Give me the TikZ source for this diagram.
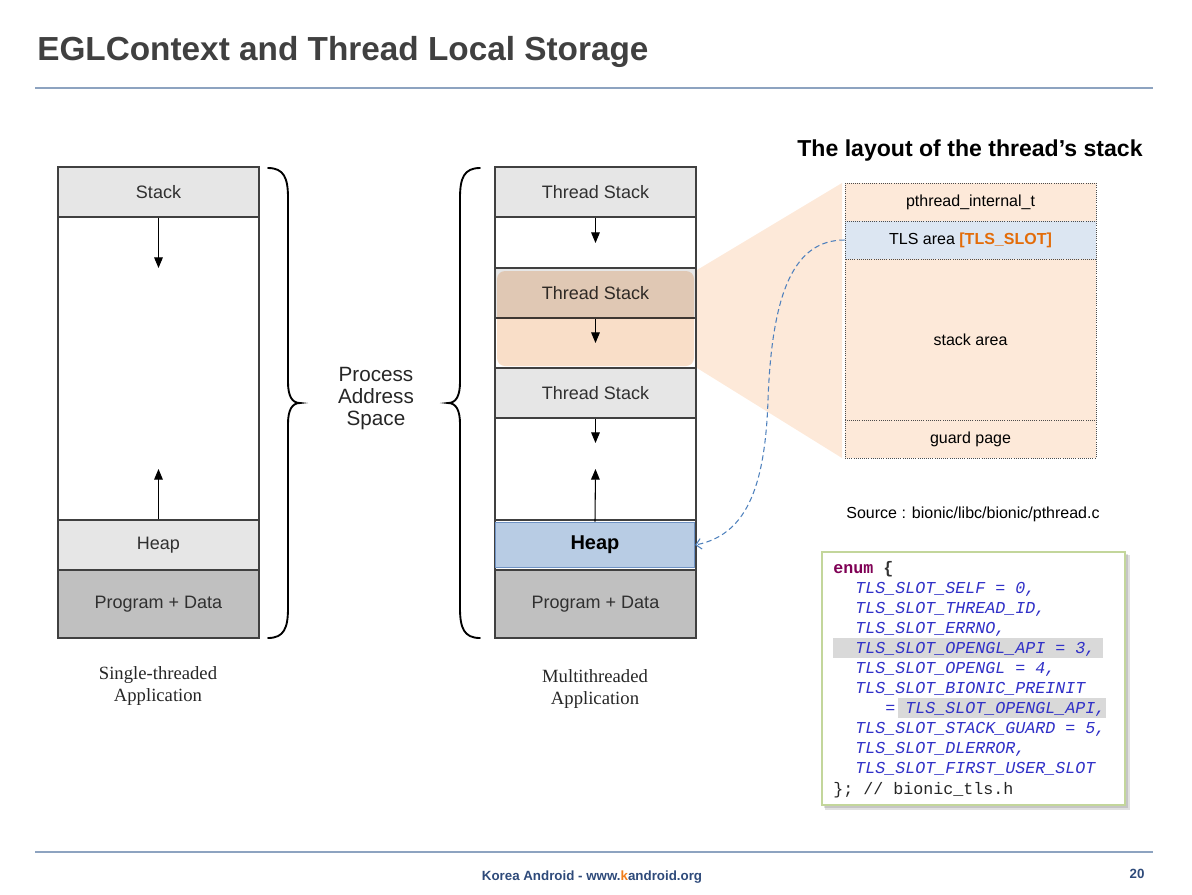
\documentclass[tikz,border=0pt]{standalone}
\usepackage{fontspec}
\setmainfont{Liberation Sans}
\newfontfamily\serifx{Liberation Serif}
\newfontfamily\codefont{Liberation Mono}
\usetikzlibrary{arrows.meta}
\definecolor{titlegray}{HTML}{404040}
\definecolor{rulecol}{HTML}{8DA3C0}
\definecolor{footblue}{HTML}{2E4A7A}
\definecolor{korange}{HTML}{F07D1A}
\definecolor{cellgray}{HTML}{E6E6E6}
\definecolor{proggray}{HTML}{C0C0C0}
\definecolor{heapblue}{HTML}{B8CCE4}
\definecolor{heapedge}{HTML}{6F93C4}
\definecolor{peach}{HTML}{FDE9D9}
\definecolor{tlsblue}{HTML}{DCE6F2}
\definecolor{tlsorange}{HTML}{E36C09}
\definecolor{overlaycol}{HTML}{F9DEC8}
\definecolor{dashblue}{HTML}{4F81BD}
\definecolor{codeblue}{HTML}{3030C8}
\definecolor{codekw}{HTML}{7F0055}
\definecolor{codeedge}{HTML}{C3D69B}
\definecolor{hilite}{HTML}{D9D9D9}
\definecolor{labelgray}{HTML}{303030}
\tikzset{
  cell/.style={draw=black!75, line width=0.9pt, minimum width=150.75pt, inner sep=0pt,
    font=\fontsize{13.5}{16}\selectfont, text=labelgray, anchor=center},
  rcell/.style={draw=black!70, densely dotted, line width=0.6pt, fill=peach, minimum width=188.25pt,
    inner sep=0pt, font=\fontsize{12}{14}\selectfont, anchor=center},
  memarrow/.style={line width=0.8pt, -{Triangle[length=8pt,width=6.5pt]}},
  brace/.style={line width=1.4pt, line cap=round},
  codeline/.style={inner sep=0pt, anchor=base west, text=codeblue,
    font=\codefont\itshape\fontsize{12.5}{15}\selectfont},
  applabel/.style={align=center, inner sep=0pt, font=\serifx\fontsize{14}{17}\selectfont, text=black!85},
}
\begin{document}
\begin{tikzpicture}[x=0.75pt, y=-0.75pt]
\useasboundingbox (0,0) rectangle (1192,894);

% title and rules
\node[anchor=base west, inner sep=0pt, text=titlegray, font=\bfseries\fontsize{25}{30}\selectfont] (title) at (37,60) {EGLContext and Thread Local Storage};
\coordinate (r1a) at (35,88); \coordinate (r1b) at (1153,88);
\draw[rulecol, line width=1pt] (r1a) -- (r1b);
\coordinate (r2a) at (35,852); \coordinate (r2b) at (1153,852);
\draw[rulecol, line width=1pt] (r2a) -- (r2b);
\node[anchor=base, inner sep=0pt, text=footblue, font=\bfseries\fontsize{10}{12}\selectfont] (foot) at (592,880) {Korea Android - www.{\color{korange}k}android.org};
\node[anchor=base, inner sep=0pt, text=footblue, font=\bfseries\fontsize{10}{12}\selectfont] (pagenum) at (1137,878) {20};

% left column: single-threaded
\node[cell, fill=cellgray, minimum height=37.5pt] (lstack) at (158.5,192) {Stack};
\node[cell, fill=white, minimum height=227.25pt] (lfree) at (158.5,368.5) {};
\node[cell, fill=cellgray, minimum height=37.5pt] (lheap) at (158.5,545) {Heap};
\node[cell, fill=proggray, minimum height=51pt] (lprog) at (158.5,604) {Program + Data};
\coordinate (la1) at (158.5,268);
\coordinate (la2) at (158.5,469);
\draw[memarrow] (lstack.south) -- (la1);
\draw[memarrow] (lheap.north) -- (la2);
\node[applabel] (lapp) at (158,686) {Single-threaded\\Application};

% braces
\draw[brace] (268,168) .. controls (284,168) and (288,178) .. (288,198) -- (288,382)
  .. controls (288,396) and (292,403) .. (300,403)
  .. controls (292,403) and (288,410) .. (288,424) -- (288,608)
  .. controls (288,628) and (284,638) .. (268,638);
\draw[brace] (480,168) .. controls (464,168) and (460,178) .. (460,198) -- (460,382)
  .. controls (460,396) and (456,403) .. (448,403)
  .. controls (456,403) and (460,410) .. (460,424) -- (460,608)
  .. controls (460,628) and (464,638) .. (480,638);
\node[align=center, inner sep=0pt, font=\fontsize{15.5}{16.5}\selectfont, text=black!85] (pas) at (376,399) {Process\\Address\\Space};

% projection
\fill[peach] (697,270) -- (842,183) -- (842,458) -- (697,368) -- cycle;

% middle column: multithreaded
\node[cell, fill=cellgray, minimum height=37.5pt] (ts1) at (595.5,192) {Thread Stack};
\node[cell, fill=white, minimum height=38.25pt] (f1) at (595.5,242.5) {};
\node[cell, fill=cellgray, minimum height=37.5pt] (ts2) at (595.5,293) {Thread Stack};
\node[cell, fill=white, minimum height=37.5pt] (f2) at (595.5,343) {};
\node[cell, fill=cellgray, minimum height=37.5pt] (ts3) at (595.5,393) {Thread Stack};
\node[cell, fill=white, minimum height=76.5pt] (f3) at (595.5,469) {};
\node[cell, fill=white, minimum height=37.5pt] (mheap) at (595.5,545) {};
\node[cell, fill=proggray, minimum height=51pt] (mprog) at (595.5,604) {Program + Data};
\node[draw=heapedge, line width=1pt, fill=heapblue, minimum width=149.25pt, minimum height=34pt, inner sep=0pt,
  font=\bfseries\fontsize{15}{18}\selectfont, text=black] (heapB) at (595,545) {Heap};
\coordinate (ma1) at (595.5,243);
\coordinate (ma2) at (595.5,343);
\coordinate (ma3) at (595.5,443);
\coordinate (ma4) at (595.5,469);
\draw[memarrow] (ts1.south) -- (ma1);
\draw[memarrow] (ts2.south) -- (ma2);
\draw[memarrow] (ts3.south) -- (ma3);
\draw[memarrow] (heapB.north) -- (ma4);
\begin{scope}[blend mode=multiply]
\fill[overlaycol, rounded corners=6pt] (497,271) rectangle (694,366);
\end{scope}
\node[applabel] (mapp) at (595,689) {Multithreaded\\Application};

% right: layout of thread's stack
\node[anchor=base, inner sep=0pt, font=\bfseries\fontsize{17.3}{20}\selectfont] (rtitle) at (970,156) {The layout of the thread’s stack};
\node[rcell, minimum height=28.5pt] (pit) at (970.5,202) {pthread\_internal\_t};
\node[rcell, fill=tlsblue, minimum height=28.5pt] (tls) at (970.5,240) {TLS area {\bfseries\color{tlsorange}[TLS\_SLOT]}};
\node[rcell, minimum height=120.75pt] (sa) at (970.5,339.5) {stack area};
\node[rcell, minimum height=28.5pt] (gp) at (970.5,439) {guard page};
\node[anchor=base, inner sep=0pt, font=\fontsize{12}{14}\selectfont] (src) at (973,518) {Source : bionic/libc/bionic/pthread.c};

% dashed link
\draw[dashblue, line width=0.8pt, dash pattern=on 4pt off 2.5pt, -{Straight Barb[length=4pt,width=8pt]}]
  (tls.west) .. controls (795,240) and (772,290) .. (768,400)
  .. controls (765,490) and (745,535) .. (heapB.east);

% code box
\fill[black, opacity=0.12] (825,555) rectangle (1130,810);
\fill[black, opacity=0.12] (824,554) rectangle (1128,808);
\node[draw=codeedge, line width=1.2pt, fill=white, minimum width=227.25pt, minimum height=189.75pt, inner sep=0pt] (codebox) at (973.5,678.5) {};
\fill[hilite] (833,638) rectangle (1103,658);
\fill[hilite] (898,698) rectangle (1106,718);
\node[codeline, text=codekw, font=\codefont\bfseries\fontsize{12.5}{15}\selectfont] (c1) at (833,573) {enum {\color{black!80}\{}};
\node[codeline] (c2) at (855,593) {TLS\_SLOT\_SELF = 0,};
\node[codeline] (c3) at (855,613) {TLS\_SLOT\_THREAD\_ID,};
\node[codeline] (c4) at (855,633) {TLS\_SLOT\_ERRNO,};
\node[codeline] (c5) at (855,653) {TLS\_SLOT\_OPENGL\_API = 3,};
\node[codeline] (c6) at (855,673) {TLS\_SLOT\_OPENGL = 4,};
\node[codeline] (c7) at (855,693) {TLS\_SLOT\_BIONIC\_PREINIT};
\node[codeline] (c8) at (885,713) {= TLS\_SLOT\_OPENGL\_API,};
\node[codeline] (c9) at (855,733) {TLS\_SLOT\_STACK\_GUARD = 5,};
\node[codeline] (c10) at (855,753) {TLS\_SLOT\_DLERROR,};
\node[codeline] (c11) at (855,773) {TLS\_SLOT\_FIRST\_USER\_SLOT};
\node[codeline, text=black!85, font=\codefont\fontsize{12.5}{15}\selectfont] (c12) at (833,794) {\}; // bionic\_tls.h};
\end{tikzpicture}
\end{document}
